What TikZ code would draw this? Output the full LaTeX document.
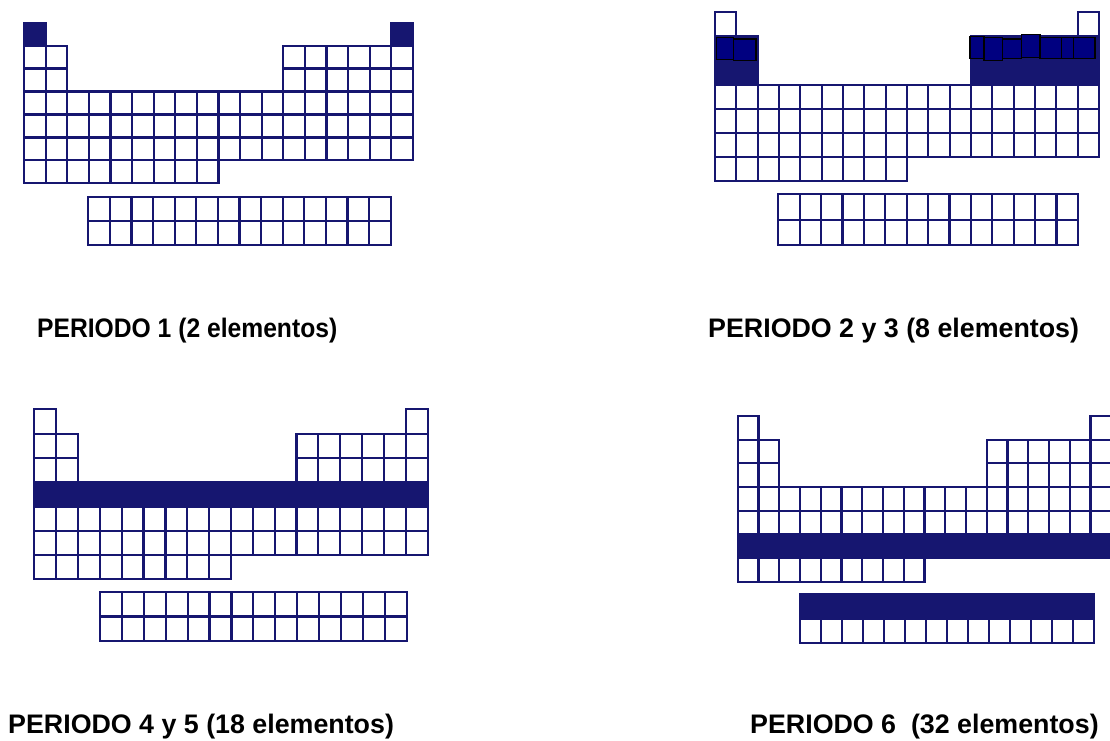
\documentclass[tikz,border=0pt]{standalone}
\usepackage{fontspec}
\setmainfont{Liberation Sans}
\definecolor{tblue}{RGB}{22,22,112}
\definecolor{boxblue}{RGB}{0,0,128}
\tikzset{
  cell/.style={draw=tblue, line width=2.2pt},
  band/.style={fill=tblue},
  blk/.style={draw=black, fill=boxblue, line width=1.5pt},
  lbl/.style={anchor=base west, inner sep=0pt, font=\fontsize{26.8}{30}\selectfont\bfseries}
}
% #1 x0, #2 y0, #3 w, #4 h, #5 lx0, #6 ly0, #7 lw, #8 lh
\newcommand{\mytable}[8]{%
  \foreach \c in {0,17} \draw[cell] ({#1+\c*#3},{#2}) rectangle +(#3,#4);
  \foreach \r in {1,2} \foreach \c in {0,1,12,13,...,17}
    \draw[cell] ({#1+\c*#3},{#2+\r*#4}) rectangle +(#3,#4);
  \foreach \r in {3,4,5} \foreach \c in {0,...,17}
    \draw[cell] ({#1+\c*#3},{#2+\r*#4}) rectangle +(#3,#4);
  \foreach \c in {0,...,8}
    \draw[cell] ({#1+\c*#3},{#2+6*#4}) rectangle +(#3,#4);
  \foreach \r in {0,1} \foreach \c in {0,...,13}
    \draw[cell] ({#5+\c*#7},{#6+\r*#8}) rectangle +(#7,#8);
}
\begin{document}
\begin{tikzpicture}[x=1pt,y=-1pt]
\useasboundingbox (0,0) rectangle (1110,740);
\clip (0,0) rectangle (1110,740);
\fill[white] (0,0) rectangle (1110,740);

% Panel 1
\mytable{24}{22.7}{21.6}{22.94}{88.3}{197.3}{21.6}{23.85}
\fill[band] (24,22.7) rectangle +(21.6,22.94);
\fill[band] ({24+17*21.6},22.7) rectangle +(21.6,22.94);
\node[lbl] (l1) at (37,337) {\scalebox{0.92}[1]{PERIODO 1 (2 elementos)}};

% Panel 2
\mytable{715}{12.3}{21.33}{24.1}{778.3}{194.3}{21.4}{25.3}
\fill[band] (715,36.4) rectangle ({715+2*21.33},84.6);
\fill[band] ({715+12*21.33},36.4) rectangle ({715+18*21.33},84.6);
\draw[blk] (716.5,37.7) rectangle (733.3,59.3);
\draw[blk] (733.3,39) rectangle (756,60.5);
\draw[blk] (970,36.7) rectangle (984,58.3);
\draw[blk] (984,37.7) rectangle (1002.7,60.5);
\draw[blk] (1002.7,39) rectangle (1021.7,58.3);
\draw[blk] (1021.7,34.3) rectangle (1040,57.7);
\draw[blk] (1040,37.7) rectangle (1061.7,58.3);
\draw[blk] (1061.7,37.7) rectangle (1073.3,58.3);
\draw[blk] (1073.3,37.7) rectangle (1095,58.3);
\node[lbl] (l2) at (708,337) {PERIODO 2 y 3 (8 elementos)};

% Panel 3
\mytable{34.3}{409.3}{21.85}{24.29}{100}{592.3}{21.9}{24.2}
\fill[band] (34.3,{409.3+3*24.29}) rectangle ({34.3+18*21.85},{409.3+4*24.29});
\node[lbl] (l3) at (8,733) {PERIODO 4 y 5 (18 elementos)};

% Panel 4
\mytable{737.7}{416}{20.75}{23.67}{800}{594.3}{21.0}{24.2}
\fill[band] (737.7,{416+5*23.67}) rectangle ({737.7+18*20.75},{416+6*23.67});
\fill[band] (800,594.3) rectangle ({800+14*21.0},{594.3+24.2});
\node[lbl] (l4) at (750,733) {PERIODO 6~~(32 elementos)};
\end{tikzpicture}
\end{document}
